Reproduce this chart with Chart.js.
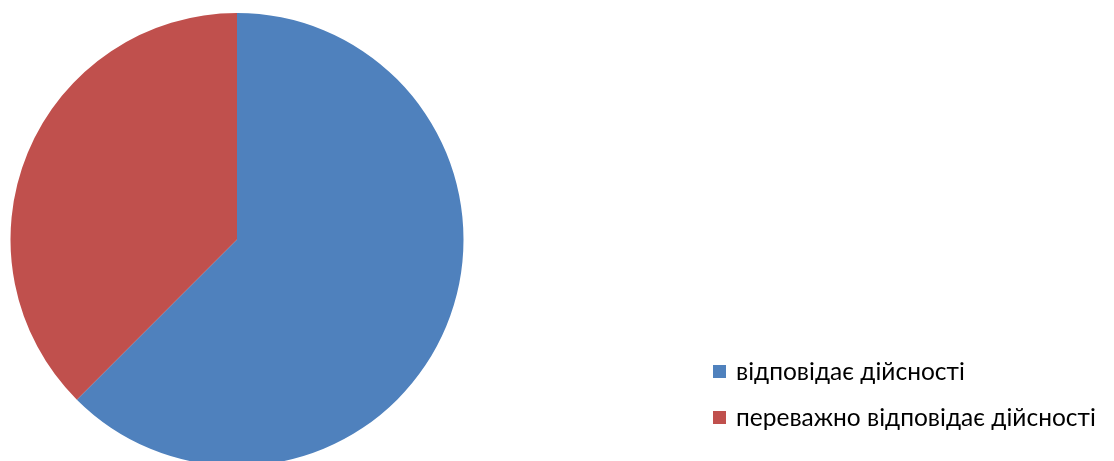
<!DOCTYPE html>
<html>
<head>
<meta charset="utf-8">
<script src="https://cdn.jsdelivr.net/npm/chart.js@4"></script>
<style>
  html, body { margin: 0; padding: 0; background: #fff; overflow: hidden; }
  #wrap { position: relative; width: 1114px; height: 470px; }
</style>
</head>
<body>
<div id="wrap"><canvas id="pieChart"></canvas></div>
<script>
// data
const labels = ['відповідає дійсності', 'переважно відповідає дійсності'];
const values = [62.5, 37.5];
const colors = ['#4F81BD', '#C0504D'];

// legend drawn at the right, the way the office chart places it
const sideLegend = {
    id: 'sideLegend',
    afterDraw(chart) {
        const ctx = chart.ctx;
        const ds = chart.data.datasets[0];
        ctx.save();
        ctx.font = '24.5px Lato, sans-serif';
        ctx.textBaseline = 'alphabetic';
        chart.data.labels.forEach((text, i) => {
            const base = 380 + i * 46;
            ctx.fillStyle = ds.backgroundColor[i];
            ctx.fillRect(713, base - 15, 13, 13);
            ctx.fillStyle = '#000';
            ctx.fillText(text, 736, base);
        });
        ctx.restore();
    }
};

const pieCtx = document.getElementById('pieChart').getContext('2d');
const pieChart = new Chart(pieCtx, {
    type: 'pie',
    data: {
        labels: labels,
        datasets: [{
            data: values,
            backgroundColor: colors,
            borderWidth: 0
        }]
    },
    options: {
        responsive: true,
        maintainAspectRatio: false,
        animation: false,
        layout: {
            padding: { left: 10, top: 13, right: 650, bottom: 4 }
        },
        plugins: {
            legend: { display: false },
            tooltip: { enabled: false }
        }
    },
    plugins: [sideLegend]
});
</script>
</body>
</html>
